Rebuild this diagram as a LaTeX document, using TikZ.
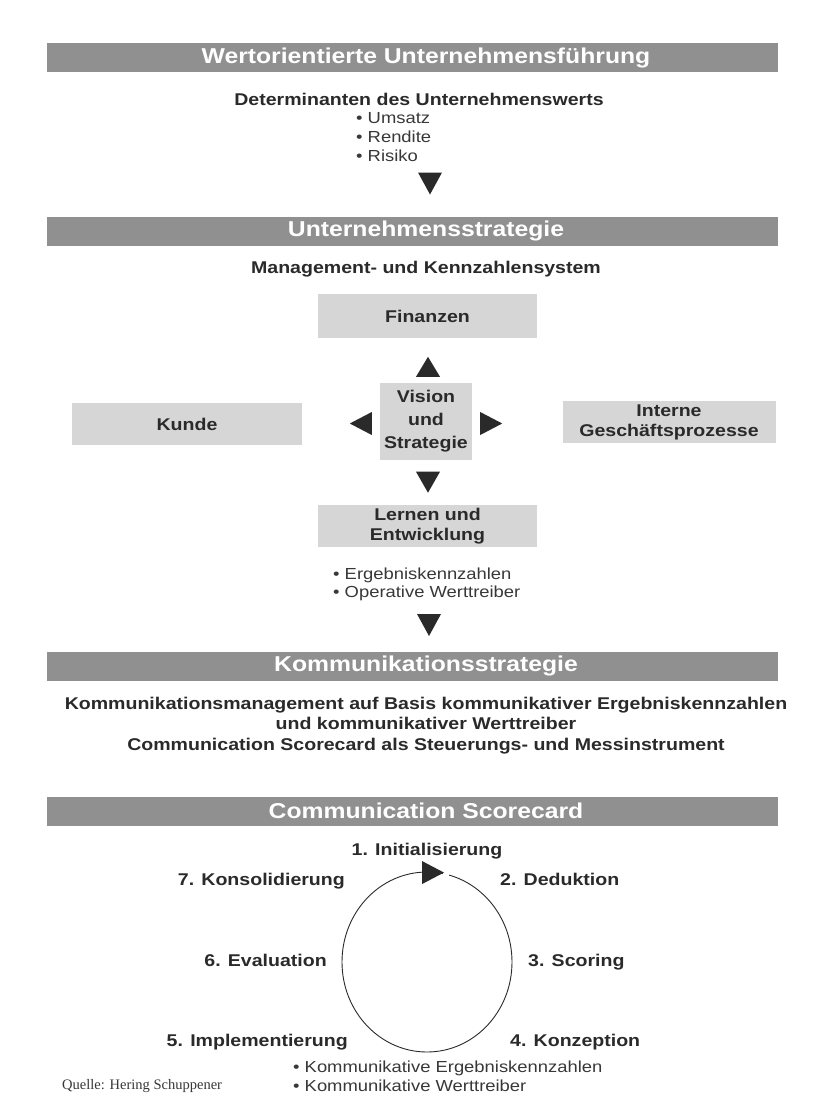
\documentclass[tikz,border=0pt]{standalone}
\usepackage{fontspec}
\setmainfont{Liberation Sans}[FakeStretch=1.15]
\newfontfamily\srcfont{Liberation Serif}
\usetikzlibrary{shapes.geometric,calc}

\definecolor{bannergray}{HTML}{909090}
\definecolor{boxgray}{HTML}{D6D6D6}
\definecolor{ink}{HTML}{2A2A2A}
\definecolor{bodyink}{HTML}{383838}

\newcommand\bnfont{\bfseries\fontsize{21.5}{24}\selectfont}
\newcommand\hdfont{\bfseries\fontsize{17}{21}\selectfont}
\newcommand\btfont{\fontsize{16}{19}\selectfont}

\tikzset{
  bannerbar/.style={fill=bannergray, minimum width=731pt, minimum height=29pt, inner sep=0pt},
  bannertext/.style={font=\bnfont, text=white, inner sep=0pt},
  head/.style={font=\hdfont, text=ink, align=center, inner sep=0pt},
  catbox/.style={fill=boxgray, font=\hdfont, text=ink, align=center, inner sep=0pt},
  bullets/.style={font=\btfont, text=bodyink, align=left, anchor=west, inner sep=0pt},
  stage/.style={font=\hdfont, text=ink, inner sep=0pt, text height=12.5pt, text depth=3.5pt},
  tri/.style={fill=ink},
  ring/.style={draw=ink, line width=0.9pt, ellipse, inner sep=0pt, minimum width=170pt, minimum height=180pt}
}

\begin{document}
\begin{tikzpicture}[x=1pt, y=-1pt]
  \fill[white] (0,0) rectangle (820,1119);
  \useasboundingbox (0,0) rectangle (820,1119);

  % Wertorientierte Unternehmensfuehrung
  \node[bannerbar] (bar1) at (412.5,57.5) {};
  \node[bannertext] (ban1) at (426,57.5) {Wertorientierte Unternehmensführung};
  \node[head] (det) at (419,99) {Determinanten des Unternehmenswerts};
  \node[bullets] (detlist) at (356,137) {• Umsatz\\• Rendite\\• Risiko};
  \coordinate (d1) at (430,183.5);
  \fill[tri, shift={(d1)}] (-12,-11) -- (12,-11) -- (0,11) -- cycle;

  % Unternehmensstrategie
  \node[bannerbar] (bar2) at (412.5,231) {};
  \node[bannertext] (ban2) at (426,231) {Unternehmensstrategie};
  \node[head] (mgmt) at (426,269) {Management- und Kennzahlensystem};

  \node[catbox, minimum width=219pt, minimum height=44pt] (fin) at (427.5,316) {Finanzen};
  \node[catbox, minimum width=92pt, minimum height=77pt, font=\bfseries\fontsize{17}{23}\selectfont] (vis) at (426,421.5) {Vision\\und\\Strategie};
  \node[catbox, minimum width=230pt, minimum height=42pt] (kun) at (187,424) {Kunde};
  \node[catbox, minimum width=213pt, minimum height=42pt, font=\bfseries\fontsize{17}{20}\selectfont] (int) at (669,422) {Interne\\Geschäftsprozesse};
  \node[catbox, minimum width=219pt, minimum height=42pt, font=\bfseries\fontsize{17}{20}\selectfont] (ler) at (427.5,526) {Lernen und\\Entwicklung};

  % arrows around the vision box
  \coordinate (up) at ($(vis.north)+(2,-16)$);
  \fill[tri, shift={(up)}] (-12,10) -- (12,10) -- (0,-10) -- cycle;
  \coordinate (lt) at ($(vis.west)+(-19,2)$);
  \fill[tri, shift={(lt)}] (11,-11.5) -- (11,11.5) -- (-11,0) -- cycle;
  \coordinate (rt) at ($(vis.east)+(19,2)$);
  \fill[tri, shift={(rt)}] (-11,-11.5) -- (-11,11.5) -- (11,0) -- cycle;
  \coordinate (dn) at ($(vis.south)+(2,22)$);
  \fill[tri, shift={(dn)}] (-12,-10.5) -- (12,-10.5) -- (0,10.5) -- cycle;

  \node[bullets, font=\fontsize{16}{18}\selectfont] (lerlist) at (333,584) {• Ergebniskennzahlen\\• Operative Werttreiber};
  \coordinate (d3) at (429,625);
  \fill[tri, shift={(d3)}] (-12,-11) -- (12,-11) -- (0,11) -- cycle;

  % Kommunikationsstrategie
  \node[bannerbar] (bar3) at (412.5,666) {};
  \node[bannertext] (ban3) at (426,666) {Kommunikationsstrategie};
  \node[head, font=\bfseries\fontsize{17}{20.5}\selectfont] (kom) at (426,725.5) {Kommunikationsmanagement auf Basis kommunikativer Ergebniskennzahlen\\und kommunikativer Werttreiber\\Communication Scorecard als Steuerungs- und Messinstrument};

  % Communication Scorecard
  \node[bannerbar] (bar4) at (412.5,811) {};
  \node[bannertext] (ban4) at (426,811) {Communication Scorecard};

  \node[ring] (cyc) at (427,962) {};
  \coordinate (ct) at ($(cyc.north)+(5,1)$);
  \fill[white] ($(ct)+(11,-3)$) rectangle ($(ct)+(17,3)$);
  \fill[tri, shift={(ct)}] (-10,-11.5) -- (-10,11.5) -- (12,0) -- cycle;

  \node[stage] (s1) at (427,851) {1. Initialisierung};
  \node[stage, anchor=west] (s2) at (500,881) {2. Deduktion};
  \node[stage, anchor=west] (s3) at (528,962) {3. Scoring};
  \node[stage, anchor=west] (s4) at (510,1042) {4. Konzeption};
  \node[stage, anchor=east] (s5) at (348,1042) {5. Implementierung};
  \node[stage, anchor=east] (s6) at (327,962) {6. Evaluation};
  \node[stage, anchor=east] (s7) at (345,881) {7. Konsolidierung};

  \node[bullets] (kpis) at (293,1076.5) {• Kommunikative Ergebniskennzahlen\\• Kommunikative Werttreiber};
  \node[anchor=west, inner sep=0pt, font=\srcfont\fontsize{14.5}{17}\selectfont, text=bodyink] (src) at (62,1086) {Quelle: Hering Schuppener};
\end{tikzpicture}
\end{document}
